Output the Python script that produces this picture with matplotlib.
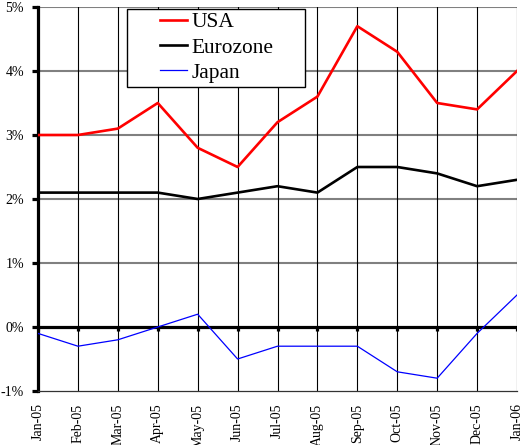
import matplotlib
matplotlib.use("Agg")
import matplotlib.pyplot as plt
from matplotlib.patches import Rectangle
import numpy as np

months = ["Jan-05", "Feb-05", "Mar-05", "Apr-05", "May-05", "Jun-05", "Jul-05",
          "Aug-05", "Sep-05", "Oct-05", "Nov-05", "Dec-05", "Jan-06"]
usa = [3.0, 3.0, 3.1, 3.5, 2.8, 2.5, 3.2, 3.6, 4.7, 4.3, 3.5, 3.4, 4.0]
eurozone = [2.1, 2.1, 2.1, 2.1, 2.0, 2.1, 2.2, 2.1, 2.5, 2.5, 2.4, 2.2, 2.3]
japan = [-0.1, -0.3, -0.2, 0.0, 0.2, -0.5, -0.3, -0.3, -0.3, -0.7, -0.8, -0.1, 0.5]
yticks = [-1, 0, 1, 2, 3, 4, 5]
ytick_labels = ["-1%", "0%", "1%", "2%", "3%", "4%", "5%"]

plt.rcParams['font.family'] = ['Liberation Serif', 'DejaVu Serif']

fig = plt.figure(figsize=(5.22, 4.45), dpi=100)
ax = fig.add_axes([38/522, 1 - 391/445, (517-38)/522, (391-7)/445])

x = np.arange(len(months))
ax.set_xlim(0, len(months) - 1)
ax.set_ylim(-1, 5)

# grid
for yv in yticks[1:]:
    if yv != 0:
        ax.axhline(yv, color='#808080', lw=1.5, zorder=1)
for xv in x[1:]:
    ax.axvline(xv, color='black', lw=0.8, zorder=1)

# zero line with ticks
ax.axhline(0, color='black', lw=2.3, zorder=1.5)
ax.vlines(x, 0, -0.06, color='black', lw=2.3, zorder=1.5)

ax.plot(x, usa, color='#ff0000', lw=1.9, label='USA', zorder=3)
ax.plot(x, eurozone, color='black', lw=1.9, label='Eurozone', zorder=3)
ax.plot(x, japan, color='#0000ff', lw=0.9, label='Japan', zorder=3)

for s in ['top', 'right']:
    ax.spines[s].set_visible(False)
ax.spines['left'].set_linewidth(2.3)
ax.spines['bottom'].set_linewidth(0.9)
ax.spines['bottom'].set_color('#333333')

ax.set_yticks(yticks)
ax.set_yticklabels(ytick_labels, fontsize=10)
ax.tick_params(axis='y', direction='out', length=4, width=2.3, pad=6)
ax.set_xticks(x)
ax.set_xticklabels(months, rotation=90, fontsize=10)
ax.tick_params(axis='x', length=0, pad=9)

# legend box
rect = Rectangle((127/522, 1 - 87/445), (305-127)/522, (87-9)/445,
                 transform=fig.transFigure, facecolor='white', edgecolor='black',
                 lw=1.0, zorder=4)
fig.add_artist(rect)
leg = fig.legend(loc='upper left', bbox_to_anchor=(156/522, 1 - 8/445),
                 frameon=False, fontsize=15.4, handlelength=1.25,
                 handletextpad=0.2, labelspacing=0.25, borderpad=0.2,
                 borderaxespad=0)
leg.set_zorder(5)

fig.savefig("out.png", dpi=100)
